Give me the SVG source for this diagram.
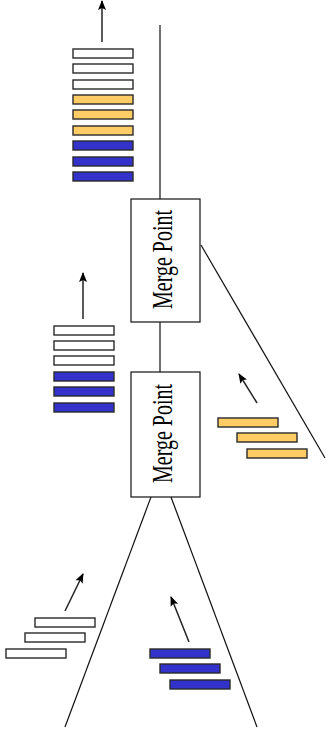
<svg xmlns="http://www.w3.org/2000/svg" width="328" height="736" viewBox="0 0 328 736">
<style>
.bar{stroke:#2a2a2a;stroke-width:1.4}
.w{fill:#fff}
.o{fill:#FFCC66}
.b{fill:#3333CC}
.ln{stroke:#111;stroke-width:1.2;fill:none}
.ar{stroke:#222;stroke-width:1.5;fill:none}
.box{fill:#fff;stroke:#111;stroke-width:1.2}
.lbl{font-family:"Liberation Serif",serif;font-size:20px;fill:#000}
</style>
<defs>
<marker id="ah" viewBox="0 0 10 8" refX="9" refY="4" markerWidth="10" markerHeight="8" orient="auto" markerUnits="userSpaceOnUse">
<path d="M0,0 L10,4 L0,8 L2,4 z" fill="#000"/>
</marker>
</defs>
<g id="connectors">
<line class="ln" x1="160" y1="25" x2="160" y2="199"/>
<line class="ln" x1="160" y1="322" x2="160" y2="372"/>
<line class="ln" x1="201" y1="245" x2="325" y2="458"/>
<line class="ln" x1="151" y1="497" x2="65" y2="727"/>
<line class="ln" x1="171" y1="497" x2="257" y2="727"/>
</g>
<g id="merge1">
<rect class="box" x="131" y="199" width="69" height="123"/>
<text class="lbl" text-anchor="middle" transform="translate(172,259.5) rotate(-90) scale(1,1.45)">Merge Point</text>
</g>
<g id="merge2">
<rect class="box" x="131" y="372" width="69" height="125"/>
<text class="lbl" text-anchor="middle" transform="translate(172,433.5) rotate(-90) scale(1,1.45)">Merge Point</text>
</g>
<g id="stack-top">
<rect class="bar w" x="73" y="49" width="60" height="9"/>
<rect class="bar w" x="73" y="64" width="60" height="9"/>
<rect class="bar w" x="73" y="80" width="60" height="9"/>
<rect class="bar o" x="73" y="95" width="60" height="9"/>
<rect class="bar o" x="73" y="110" width="60" height="9"/>
<rect class="bar o" x="73" y="126" width="60" height="9"/>
<rect class="bar b" x="73" y="141" width="60" height="9"/>
<rect class="bar b" x="73" y="157" width="60" height="9"/>
<rect class="bar b" x="73" y="172" width="60" height="9"/>
<line class="ar" x1="102" y1="42" x2="102" y2="1" marker-end="url(#ah)"/>
</g>
<g id="stack-mid">
<rect class="bar w" x="54" y="326" width="60" height="9"/>
<rect class="bar w" x="54" y="341" width="60" height="9"/>
<rect class="bar w" x="54" y="356" width="60" height="9"/>
<rect class="bar b" x="54" y="372" width="60" height="9"/>
<rect class="bar b" x="54" y="387" width="60" height="9"/>
<rect class="bar b" x="54" y="403" width="60" height="9"/>
<line class="ar" x1="83" y1="319" x2="83" y2="273" marker-end="url(#ah)"/>
</g>
<g id="stack-orange">
<rect class="bar o" x="218" y="418" width="60" height="9"/>
<rect class="bar o" x="237" y="433" width="60" height="9"/>
<rect class="bar o" x="247" y="449" width="60" height="9"/>
<line class="ar" x1="257" y1="403" x2="239" y2="374" marker-end="url(#ah)"/>
</g>
<g id="stack-white">
<rect class="bar w" x="35" y="618" width="60" height="9"/>
<rect class="bar w" x="25" y="633" width="60" height="9"/>
<rect class="bar w" x="6" y="649" width="60" height="9"/>
<line class="ar" x1="65" y1="611" x2="83" y2="574" marker-end="url(#ah)"/>
</g>
<g id="stack-blue">
<rect class="bar b" x="150" y="649" width="60" height="9"/>
<rect class="bar b" x="160" y="664" width="60" height="9"/>
<rect class="bar b" x="170" y="680" width="60" height="9"/>
<line class="ar" x1="189" y1="642" x2="171" y2="597" marker-end="url(#ah)"/>
</g>
</svg>
